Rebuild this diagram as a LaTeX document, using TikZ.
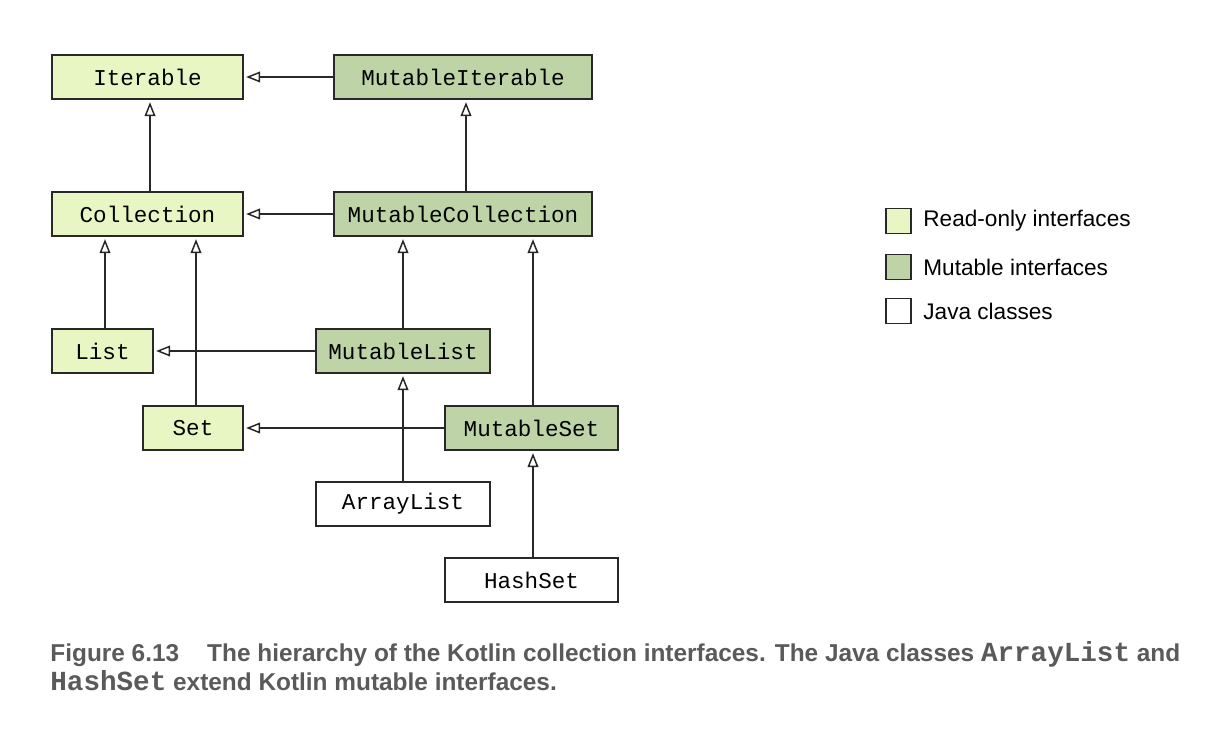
\documentclass[tikz,border=0pt]{standalone}
\usepackage{fontspec}
\setmainfont{Liberation Sans}
\setmonofont{Liberation Mono}
\usetikzlibrary{arrows.meta}

\definecolor{readonly}{RGB}{232,246,196}
\definecolor{mutable}{RGB}{190,212,166}
\definecolor{boxline}{RGB}{40,40,40}
\definecolor{captext}{RGB}{90,90,90}

\newcommand{\capcode}[1]{{\fontsize{13.8}{14}\selectfont\ttfamily\bfseries #1}}

\begin{document}
\begin{tikzpicture}[x=0.5pt, y=-0.5pt,
	iface/.style={draw=boxline, line width=0.75pt, minimum height=22pt, inner sep=0pt,
		font=\fontsize{11.3}{13}\selectfont\ttfamily},
	ro/.style={iface, fill=readonly},
	mut/.style={iface, fill=mutable},
	jclass/.style={iface, fill=white},
	ext/.style={-{Triangle[open, length=7pt, width=5.4pt, fill=white]}, line width=0.75pt, draw=boxline, shorten >=1.2pt},
	keybox/.style={draw=boxline, line width=0.75pt, minimum size=12.5pt, inner sep=0pt},
	keytext/.style={anchor=west, inner sep=0pt, font=\fontsize{11.3}{13}\selectfont},
	captxt/.style={anchor=base west, inner sep=0pt, text=captext, font=\fontsize{12.2}{14}\selectfont\bfseries}
]

	% fixed frame
	\useasboundingbox (0,0) rectangle (1220,742);

	% read-only interfaces
	\node[ro, minimum width=95.5pt] (iter) at (147.5, 77) {Iterable};
	\node[ro, minimum width=95.5pt] (coll) at (147.5, 214) {Collection};
	\node[ro, minimum width=50.5pt] (list) at (102.5, 351) {List};
	\node[ro, minimum width=50pt] (set) at (193, 428) {Set};

	% mutable interfaces
	\node[mut, minimum width=129pt] (miter) at (463, 77) {MutableIterable};
	\node[mut, minimum width=129pt] (mcoll) at (463, 214) {MutableCollection};
	\node[mut, minimum width=87pt] (mlist) at (403, 351) {MutableList};
	\node[mut, minimum width=86.5pt] (mset) at (531.5, 428) {MutableSet};

	% java classes
	\node[jclass, minimum width=87pt] (alist) at (403, 504) {ArrayList};
	\node[jclass, minimum width=86.5pt] (hset) at (531.5, 580) {HashSet};

	% inheritance arrows
	\draw[ext] (miter) -- (iter);
	\draw[ext] (mcoll) -- (coll);
	\draw[ext] (mlist) -- (list);
	\draw[ext] (mset) -- (set);
	\draw[ext] ([xshift=1.25pt]coll.north) -- ([xshift=1.25pt]iter.south);
	\draw[ext] ([xshift=1.5pt]mcoll.north) -- ([xshift=1.5pt]miter.south);
	\draw[ext] ([xshift=1.25pt]list.north) -- ([xshift=1.25pt]list.north |- coll.south);
	\draw[ext] ([xshift=1.5pt]set.north) -- ([xshift=1.5pt]set.north |- coll.south);
	\draw[ext] (mlist.north) -- (mlist.north |- mcoll.south);
	\draw[ext] ([xshift=0.75pt]mset.north) -- ([xshift=0.75pt]mset.north |- mcoll.south);
	\draw[ext] (alist) -- (mlist);
	\draw[ext] ([xshift=0.75pt]hset.north) -- ([xshift=0.75pt]mset.south);

	% legend
	\node[keybox, fill=readonly] (k1) at (898.5, 221) {};
	\node[keybox, fill=mutable] (k2) at (898.5, 267) {};
	\node[keybox, fill=white] (k3) at (898.5, 311) {};
	\node[keytext] (t1) at (923, 221) {Read-only interfaces};
	\node[keytext] (t2) at (923, 267) {Mutable interfaces};
	\node[keytext] (t3) at (923, 311) {Java classes};

	% caption
	\node[captxt] (cap1) at (50, 661)
		{Figure 6.13\hspace{14pt}The hierarchy of the Kotlin collection interfaces. The Java classes \capcode{ArrayList} and};
	\node[captxt] (cap2) at (50, 690)
		{\capcode{HashSet} extend Kotlin mutable interfaces.};
\end{tikzpicture}
\end{document}
